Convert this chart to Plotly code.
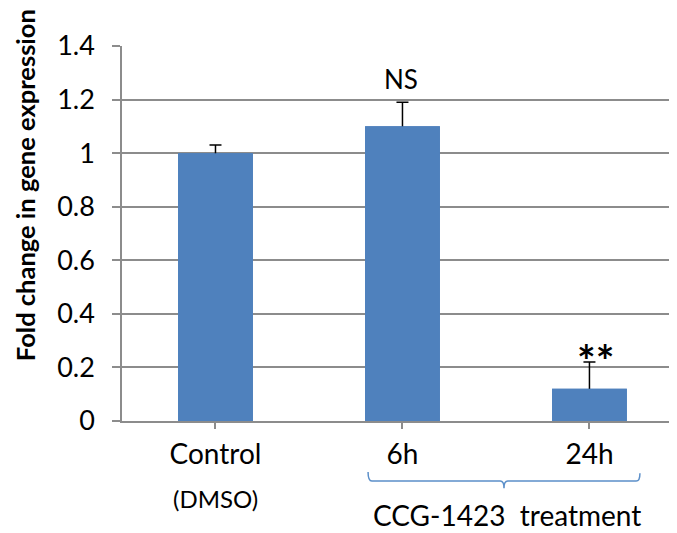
import plotly.graph_objects as go

categories = ["Control", "6h", "24h"]
values = [1.0, 1.10, 0.12]
err_plus = [0.03, 0.09, 0.10]
sig_labels = ["", "NS", "**"]
y_ticks = [0, 0.2, 0.4, 0.6, 0.8, 1.0, 1.2, 1.4]
y_ticktext = ["0", "0.2", "0.4", "0.6", "0.8", "1", "1.2", "1.4"]

FONT = "Lato"
BAR = "#4F81BD"
GRID = "#8c8c8c"

xpos = list(range(len(categories)))

fig = go.Figure()
# bars carrying the error whiskers
fig.add_trace(go.Bar(
    x=xpos, y=values, width=0.4,
    marker=dict(color=BAR, line=dict(width=0)),
    error_y=dict(type="data", symmetric=True, array=err_plus, color="black",
                 thickness=1.5, width=6),
    showlegend=False, hoverinfo="skip",
))
# same bars drawn on top so only the upward whisker shows
fig.add_trace(go.Bar(
    x=xpos, y=values, width=0.4,
    marker=dict(color=BAR, line=dict(width=0)),
    showlegend=False,
))

annotations = []
# significance labels
annotations.append(dict(x=xpos[1], y=values[1] + err_plus[1], xref="x", yref="y",
                        text=sig_labels[1], showarrow=False, yanchor="middle",
                        xshift=-1, yshift=23, font=dict(family=FONT, size=26, color="black")))
annotations.append(dict(x=xpos[2], y=values[2] + err_plus[2], xref="x", yref="y",
                        text="<b>" + sig_labels[2] + "</b>", showarrow=False,
                        yanchor="middle", xshift=6, yshift=2,
                        font=dict(family=FONT, size=44, color="black")))
# (DMSO)
annotations.append(dict(x=xpos[0], y=-0.2056, xref="x", yref="paper", text="(DMSO)",
                        showarrow=False, yanchor="middle",
                        font=dict(family=FONT, size=24, color="black")))
# treatment label
annotations.append(dict(x=(xpos[1] + xpos[2]) / 2 + 0.061, y=-0.251, xref="x", yref="paper",
                        text="CCG-1423  treatment", showarrow=False, yanchor="middle",
                        font=dict(family=FONT, size=28, color="black")))
# y axis title
annotations.append(dict(x=0, y=0.629, xref="paper", yref="paper",
                        text="<b>Fold change in gene expression</b>", textangle=-90,
                        showarrow=False, xanchor="center", yanchor="middle", xshift=-97,
                        font=dict(family=FONT, size=25.5, color="black")))

# bracket under treatment groups
xl = xpos[1] - 0.184
xc = (xpos[1] + xpos[2]) / 2 + 0.043
xr = xpos[2] + 0.27
y_end, y_line, y_tip = -0.136, -0.160, -0.179
path = (f"M {xl},{y_end} Q {xl},{y_line} {xl+0.02},{y_line} "
        f"L {xc-0.02},{y_line} Q {xc},{y_line} {xc},{y_tip} "
        f"Q {xc},{y_line} {xc+0.02},{y_line} "
        f"L {xr-0.02},{y_line} Q {xr},{y_line} {xr},{y_end-0.003}")
fig.add_shape(type="path", path=path, xref="x", yref="paper",
              line=dict(color="#5B8FC9", width=1.5))

fig.update_layout(
    width=677, height=533,
    margin=dict(l=114, r=0, t=38, b=120),
    paper_bgcolor="white", plot_bgcolor="white",
    font=dict(family=FONT, color="black"),
    annotations=annotations,
    barmode="overlay",
)
fig.update_xaxes(
    range=[-0.5, 2.511], tickmode="array", tickvals=xpos, ticktext=categories,
    tickson="boundaries", ticks="outside", ticklen=6, tickcolor=GRID, tickwidth=1.5,
    showline=True, linecolor=GRID, linewidth=1.5, showgrid=False,
    tickfont=dict(family=FONT, size=28, color="black"), ticklabelstandoff=2,
    automargin=False,
)
fig.update_yaxes(
    range=[0, 1.4], tickmode="array", tickvals=y_ticks, ticktext=y_ticktext,
    ticks="outside", ticklen=8, tickcolor=GRID, tickwidth=1.5,
    showline=True, linecolor=GRID, linewidth=1.5,
    showgrid=True, gridcolor=GRID, gridwidth=1.5, zeroline=False,
    tickfont=dict(family=FONT, size=27, color="black"), ticklabelstandoff=12,
    automargin=False,
)

fig.write_html("out.html")
